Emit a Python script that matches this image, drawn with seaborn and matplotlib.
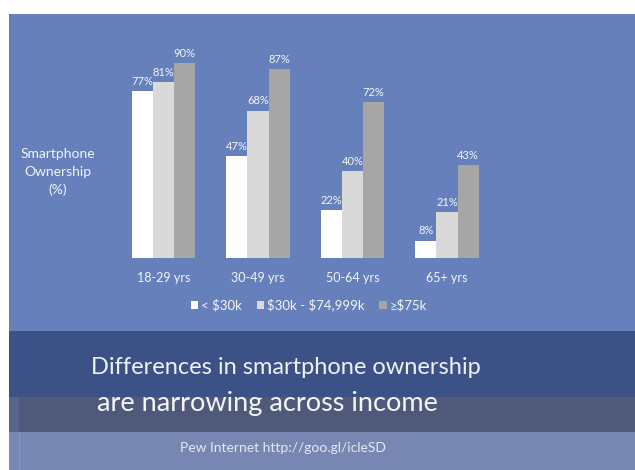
import matplotlib
matplotlib.use("Agg")
import matplotlib.pyplot as plt
from matplotlib.patches import Rectangle, Patch
import seaborn as sns
import pandas as pd

# Smartphone ownership by age group and household income (%)
age_groups = ["18-29 yrs", "30-49 yrs", "50-64 yrs", "65+ yrs"]
income_groups = ["< $30k", "$30k - $74,999k", "≥$75k"]
under_30k = [77, 47, 22, 8]
from_30k_to_75k = [81, 68, 40, 21]
over_75k = [90, 87, 72, 43]

bar_colors = ["#ffffff", "#d9d9d9", "#a6a6a6"]

rows = []
for series, name in zip([under_30k, from_30k_to_75k, over_75k], income_groups):
    for age, val in zip(age_groups, series):
        rows.append({"age": age, "income": name, "pct": val})
df = pd.DataFrame(rows)

sns.set_theme(style="white")
sans = ["Lato", "DejaVu Sans"]
plt.rcParams["font.family"] = sans
plt.rcParams["text.parse_math"] = False

W, H = 635, 470
fig = plt.figure(figsize=(W / 100, H / 100), dpi=100)
fig.patch.set_facecolor("white")

# Slide background drawn in pixel coordinates
bg = fig.add_axes([0, 0, 1, 1], zorder=0)
bg.set_xlim(0, W)
bg.set_ylim(H, 0)
bg.axis("off")


def band(x0, y0, x1, y1, color):
    bg.add_patch(Rectangle((x0, y0), x1 - x0, y1 - y0, facecolor=color,
                           edgecolor="none"))


band(9, 14, W, 331, "#6680bb")
band(9, 331, W, 397, "#3c5186")
band(9, 397, W, 432, "#4f5a7b")
band(9, 397, 19, 438, "#58648c")
band(9, 432, W, H, "#7787b1")
bg.plot([19, 19], [432, H], color="#8896bd", lw=0.8)

bg.text(58, 172, "Smartphone\nOwnership\n(%)", ha="center", va="center",
        color="#f2f4f8", fontsize=10, linespacing=1.6)
bg.text(286, 368, "Differences in smartphone ownership", ha="center",
        va="center", color="#eef1f7", fontsize=17)
bg.text(267, 403, "are narrowing across income", ha="center",
        va="center", color="#f4f4f4", fontsize=19.5)
bg.text(283, 448, "Pew Internet http://goo.gl/icleSD", ha="center",
        va="center", color="#e6e9f2", fontsize=10)

# Bar chart
ax = fig.add_axes([116.25 / W, (H - 258) / H, 378 / W, 216.7 / H], zorder=2)
ax.patch.set_alpha(0)
sns.barplot(data=df, x="age", y="pct", hue="income", hue_order=income_groups,
            palette=bar_colors, width=0.667, gap=0, saturation=1,
            linewidth=0, ax=ax, legend=False)
ax.set_xlim(-0.5, 3.5)
ax.set_ylim(0, 100)
for s in ax.spines.values():
    s.set_visible(False)
ax.set_yticks([])
ax.set_xlabel("")
ax.set_ylabel("")
ax.tick_params(axis="x", length=0, pad=10, colors="#f4f4f4", labelsize=9)

for container in ax.containers:
    ax.bar_label(container, fmt="%g%%", padding=3, color="#f6f6f6",
                 fontsize=8)

handles = [Patch(facecolor=c, edgecolor="none") for c in bar_colors]
fig.legend(handles, income_groups, loc="center",
           bbox_to_anchor=(309 / W, 1 - 305 / H), ncol=3, frameon=False,
           handlelength=0.55, handleheight=0.55, handletextpad=0.25,
           columnspacing=1.1, labelcolor="#f4f4f4",
           prop={"size": 9.5})

fig.savefig("out.png", dpi=100, facecolor=fig.get_facecolor())
